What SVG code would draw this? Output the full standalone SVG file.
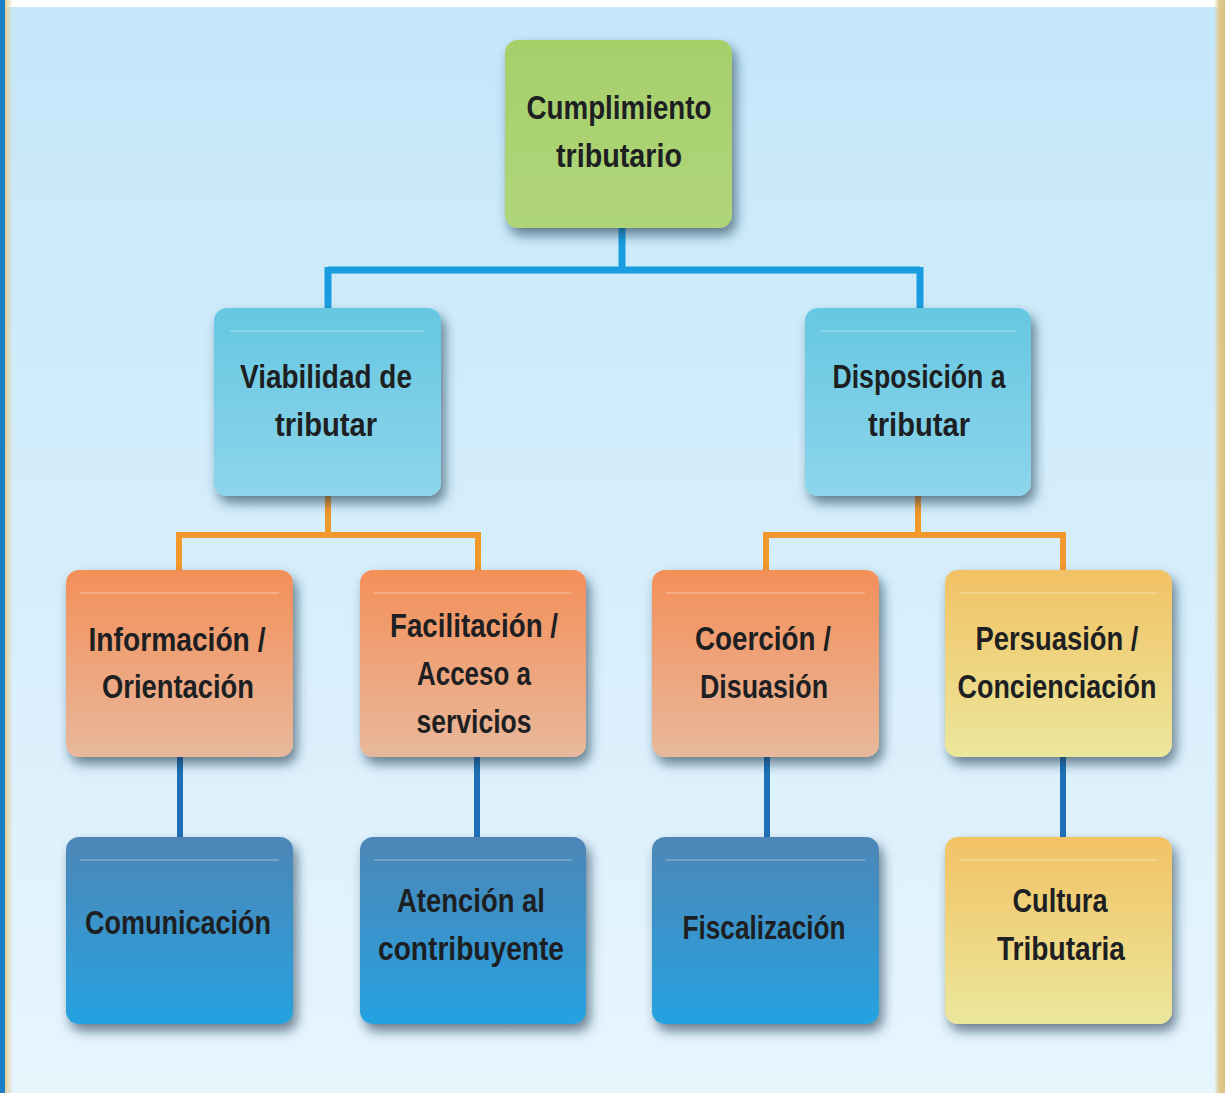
<svg xmlns="http://www.w3.org/2000/svg" width="1225" height="1093" viewBox="0 0 1225 1093">
<defs>
<linearGradient id="bg" x1="0" y1="0" x2="0" y2="1">
<stop offset="0" stop-color="#c4e7fa"/>
<stop offset="1" stop-color="#e7f5fd"/>
</linearGradient>
<linearGradient id="tanL" x1="0" y1="0" x2="1" y2="0">
<stop offset="0" stop-color="#e2cf98"/>
<stop offset="1" stop-color="#e2cf98" stop-opacity="0"/>
</linearGradient>
<linearGradient id="tanR" x1="1" y1="0" x2="0" y2="0">
<stop offset="0" stop-color="#d9c07e"/>
<stop offset="0.5" stop-color="#e0c98c"/>
<stop offset="1" stop-color="#e0c98c" stop-opacity="0"/>
</linearGradient>
<linearGradient id="gGreen" x1="0" y1="0" x2="0" y2="1">
<stop offset="0" stop-color="#a6cf6b"/>
<stop offset="1" stop-color="#afd579"/>
</linearGradient>
<linearGradient id="gLight" x1="0" y1="0" x2="0" y2="1">
<stop offset="0" stop-color="#66c7e1"/>
<stop offset="1" stop-color="#8dd5eb"/>
</linearGradient>
<linearGradient id="gOrange" x1="0" y1="0" x2="0" y2="1">
<stop offset="0" stop-color="#f48f58"/>
<stop offset="1" stop-color="#e8b89c"/>
</linearGradient>
<linearGradient id="gYellow" x1="0" y1="0" x2="0" y2="1">
<stop offset="0" stop-color="#f2c264"/>
<stop offset="1" stop-color="#ebe79c"/>
</linearGradient>
<linearGradient id="gDark" x1="0" y1="0" x2="0" y2="1">
<stop offset="0" stop-color="#4d86b6"/>
<stop offset="1" stop-color="#26a2e1"/>
</linearGradient>
<filter id="sh" x="-20%" y="-20%" width="150%" height="150%">
<feDropShadow dx="4" dy="7" stdDeviation="6" flood-color="#15304a" flood-opacity="0.6"/>
</filter>
</defs>
<style>
.box{filter:url(#sh);}
.hl{fill:none;stroke:#ffffff;stroke-opacity:0.3;stroke-width:1.5;}
.t{font-family:"Liberation Sans Narrow","Liberation Sans",Arial,sans-serif;font-weight:bold;font-size:34px;fill:#1d1f22;text-anchor:middle;}
.cb{fill:none;stroke:#1a9de0;stroke-width:7;}
.co{fill:none;stroke:#f2982c;stroke-width:6;}
.cd{fill:none;stroke:#1f71b7;stroke-width:6;}
</style>

<!-- background -->
<rect x="0" y="0" width="1225" height="1093" fill="url(#bg)"/>
<rect x="0" y="0" width="1225" height="7" fill="#ffffff"/>
<rect x="5" y="0" width="8" height="1093" fill="url(#tanL)"/>
<rect x="0" y="0" width="5" height="1093" fill="#1b7fc8"/>
<rect x="1214" y="0" width="11" height="1093" fill="url(#tanR)"/>

<g id="connectors">
<path class="cb" d="M622 226 V270 M328 270 H920 M328 267 V310 M920 267 V310"/>
<path class="co" d="M328 494 V535 M179 535 H478 M179 532 V572 M478 532 V572"/>
<path class="co" d="M918 494 V535 M766 535 H1063 M766 532 V572 M1063 532 V572"/>
<path class="cd" d="M180 755 V839 M477 755 V839 M767 755 V839 M1063 755 V839"/>
</g>

<g id="n-cumplimiento">
<rect class="box" x="505" y="40" width="227" height="188" rx="13" fill="url(#gGreen)"/>
<text class="t" x="619" y="119" textLength="185" lengthAdjust="spacingAndGlyphs">Cumplimiento</text>
<text class="t" x="619" y="167" textLength="126" lengthAdjust="spacingAndGlyphs">tributario</text>
</g>

<g id="n-viabilidad">
<rect class="box" x="214" y="308" width="227" height="188" rx="13" fill="url(#gLight)"/>
<path class="hl" d="M230 331 H425"/>
<text class="t" x="326" y="388" textLength="172" lengthAdjust="spacingAndGlyphs">Viabilidad de</text>
<text class="t" x="326" y="436" textLength="102" lengthAdjust="spacingAndGlyphs">tributar</text>
</g>

<g id="n-disposicion">
<rect class="box" x="805" y="308" width="226" height="188" rx="13" fill="url(#gLight)"/>
<path class="hl" d="M821 331 H1015"/>
<text class="t" x="919" y="388" textLength="173" lengthAdjust="spacingAndGlyphs">Disposición a</text>
<text class="t" x="919" y="436" textLength="102" lengthAdjust="spacingAndGlyphs">tributar</text>
</g>

<g id="n-informacion">
<rect class="box" x="66" y="570" width="227" height="187" rx="13" fill="url(#gOrange)"/>
<path class="hl" d="M80 593 H279"/>
<text class="t" x="177" y="651" textLength="177" lengthAdjust="spacingAndGlyphs">Información /</text>
<text class="t" x="178" y="698" textLength="152" lengthAdjust="spacingAndGlyphs">Orientación</text>
</g>

<g id="n-facilitacion">
<rect class="box" x="360" y="570" width="226" height="187" rx="13" fill="url(#gOrange)"/>
<path class="hl" d="M374 593 H572"/>
<text class="t" x="474" y="637" textLength="168" lengthAdjust="spacingAndGlyphs">Facilitación /</text>
<text class="t" x="474" y="685" textLength="114" lengthAdjust="spacingAndGlyphs">Acceso a</text>
<text class="t" x="474" y="733" textLength="115" lengthAdjust="spacingAndGlyphs">servicios</text>
</g>

<g id="n-coercion">
<rect class="box" x="652" y="570" width="227" height="187" rx="13" fill="url(#gOrange)"/>
<path class="hl" d="M666 593 H865"/>
<text class="t" x="763" y="650" textLength="136" lengthAdjust="spacingAndGlyphs">Coerción /</text>
<text class="t" x="764" y="698" textLength="128" lengthAdjust="spacingAndGlyphs">Disuasión</text>
</g>

<g id="n-persuasion">
<rect class="box" x="945" y="570" width="227" height="187" rx="13" fill="url(#gYellow)"/>
<path class="hl" d="M959 593 H1158"/>
<text class="t" x="1057" y="650" textLength="163" lengthAdjust="spacingAndGlyphs">Persuasión /</text>
<text class="t" x="1057" y="698" textLength="199" lengthAdjust="spacingAndGlyphs">Concienciación</text>
</g>

<g id="n-comunicacion">
<rect class="box" x="66" y="837" width="227" height="187" rx="13" fill="url(#gDark)"/>
<path class="hl" d="M80 860 H279"/>
<text class="t" x="178" y="934" textLength="186" lengthAdjust="spacingAndGlyphs">Comunicación</text>
</g>

<g id="n-atencion">
<rect class="box" x="360" y="837" width="226" height="187" rx="13" fill="url(#gDark)"/>
<path class="hl" d="M374 860 H572"/>
<text class="t" x="471" y="912" textLength="148" lengthAdjust="spacingAndGlyphs">Atención al</text>
<text class="t" x="471" y="960" textLength="186" lengthAdjust="spacingAndGlyphs">contribuyente</text>
</g>

<g id="n-fiscalizacion">
<rect class="box" x="652" y="837" width="227" height="187" rx="13" fill="url(#gDark)"/>
<path class="hl" d="M666 860 H865"/>
<text class="t" x="764" y="939" textLength="163" lengthAdjust="spacingAndGlyphs">Fiscalización</text>
</g>

<g id="n-cultura">
<rect class="box" x="945" y="837" width="227" height="187" rx="13" fill="url(#gYellow)"/>
<path class="hl" d="M959 860 H1158"/>
<text class="t" x="1060" y="912" textLength="95" lengthAdjust="spacingAndGlyphs">Cultura</text>
<text class="t" x="1061" y="960" textLength="128" lengthAdjust="spacingAndGlyphs">Tributaria</text>
</g>
</svg>
